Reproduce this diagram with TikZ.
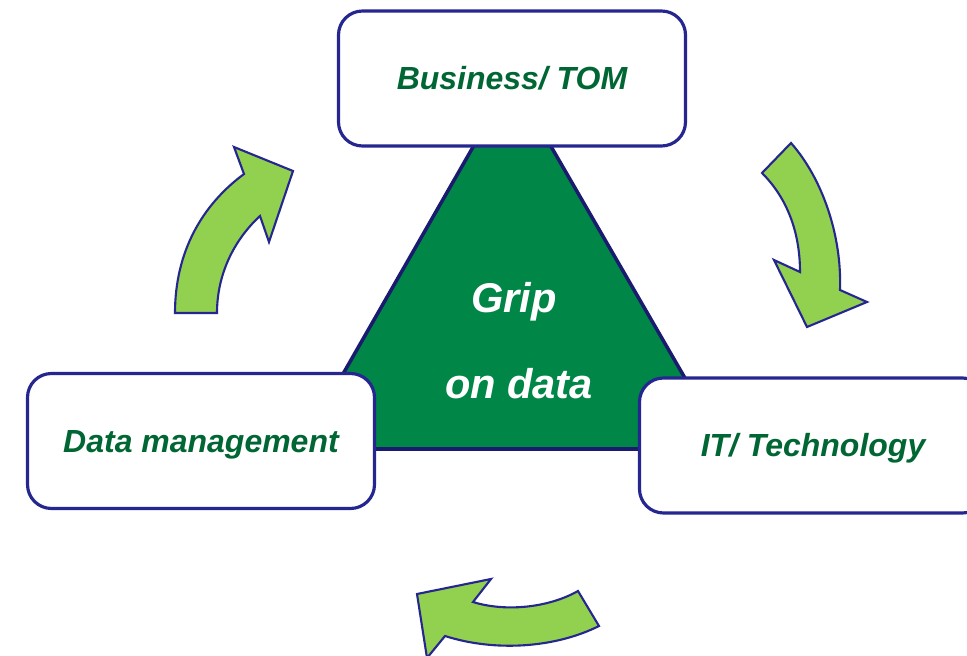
\documentclass[tikz,border=0pt]{standalone}
\usepackage{fontspec}
\setsansfont{Liberation Sans}
\usepackage{tikz}
\usetikzlibrary{positioning}
\definecolor{framecol}{RGB}{38,38,145}
\definecolor{trianglecol}{RGB}{0,134,70}
\definecolor{triangleline}{RGB}{26,26,112}
\definecolor{arrowgreen}{RGB}{146,208,80}
\definecolor{labelgreen}{RGB}{0,102,51}
\tikzset{
  block/.style={rounded corners=0.72cm,draw=framecol,line width=2.7pt,fill=white,
                minimum width=10.41cm,minimum height=4.05cm,inner sep=0pt,
                font=\sffamily\bfseries\itshape\fontsize{27.3}{32}\selectfont,
                text=labelgreen,text height=0.67cm,text depth=0pt},
  core/.style={fill=trianglecol,draw=triangleline,line width=3pt,line join=miter},
  coretext/.style={text=white,anchor=base,inner sep=0pt,
                   font=\sffamily\bfseries\itshape\fontsize{35.5}{40}\selectfont},
  flow/.style={fill=arrowgreen,draw=framecol,line width=1.8pt,line join=miter},
}

\begin{document}
\begin{tikzpicture}[x=0.03cm,y=-0.03cm]
  \useasboundingbox (0,0) rectangle (967,656);
  \clip (0,0) rectangle (967,656);
  % central triangle
  \draw[core] (512,79) -- (300,449) -- (726,449) -- cycle;
  \node[coretext] (grip) at (514,313) {Grip};
  \node[coretext] (ondata) at (519,399) {on data};
  % the three areas
  \node[block] (business) at (512,78.5) {Business/ TOM};
  \node[block] (datamgmt) at (201,441) {Data management};
  \node[block] (it) at (813,445.5) {IT/ Technology};
  % curved arrows between the areas
  \draw[flow] (175,313) .. controls (175,252) and (202,205) .. (244,174)
    -- (234,147) -- (293,171) -- (269,242) -- (260,216)
    .. controls (236,238) and (217,272) .. (217,313) -- cycle;
  \draw[flow] (791,143) .. controls (822,178) and (842,235) .. (840,290)
    -- (867,302) -- (807,327) -- (774,260) -- (800,272)
    .. controls (800,232) and (787,198) .. (762,173) -- cycle;
  \draw[flow] (599,626) .. controls (555,648) and (495,652) .. (445,636)
    -- (427,658) -- (417,594) -- (491,579) -- (473,602)
    .. controls (505,612) and (548,608) .. (578,591) -- cycle;
\end{tikzpicture}
\end{document}
